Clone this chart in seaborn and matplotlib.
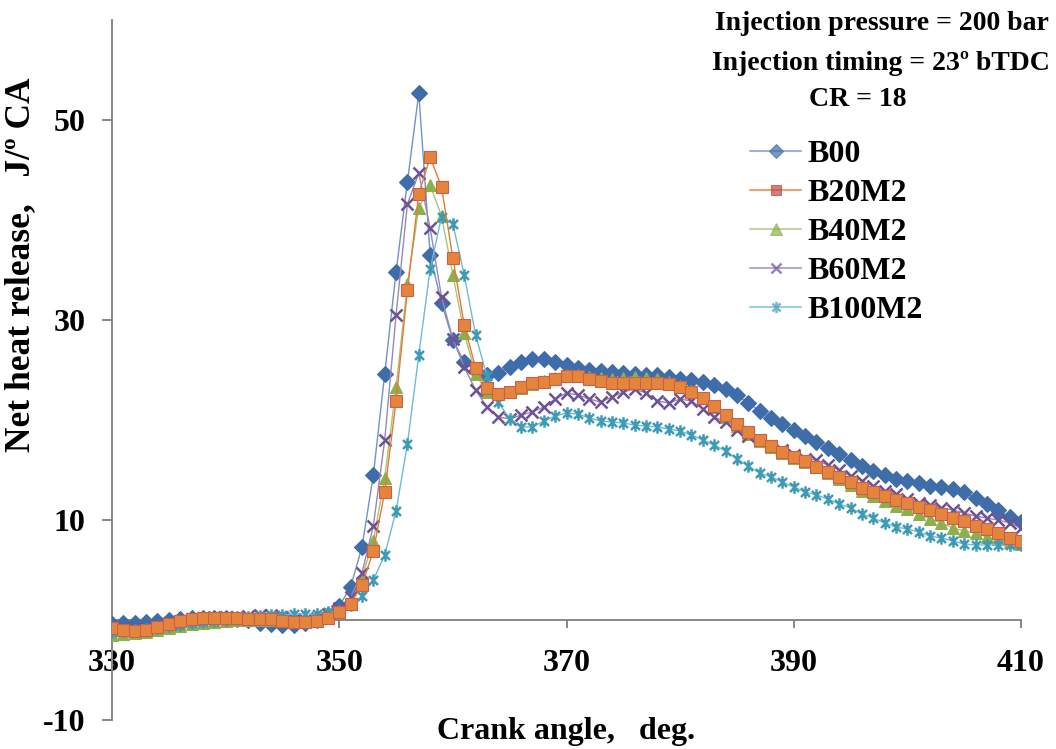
import numpy as np
import pandas as pd
import matplotlib
matplotlib.use("Agg")
import matplotlib.pyplot as plt
from matplotlib.path import Path
from matplotlib.lines import Line2D
import seaborn as sns

# ---- data ----
crank_angle = list(range(330, 411))

b00 = [-0.4, -0.3, -0.3, -0.2, -0.1, 0.0, 0.1, 0.2, 0.2, 0.2, 0.2, 0.1, 0.0, -0.3, -0.4, -0.5, -0.5, -0.3, 0.0, 0.5,
       1.4, 3.3, 7.3, 14.5, 24.6, 34.8, 43.8, 52.7, 36.5, 31.7,
       28.0, 25.8, 24.9, 24.5, 24.7, 25.3, 25.8, 26.1, 26.1, 25.8,
       25.5, 25.2, 25.0, 24.9, 24.8, 24.7, 24.6, 24.5, 24.5, 24.3,
       24.1, 24.0, 23.8, 23.5, 23.1, 22.5, 21.7, 20.9, 20.2, 19.6,
       19.0, 18.4, 17.8, 17.2, 16.6, 16.0, 15.45, 14.95, 14.55, 14.15,
       13.9, 13.7, 13.45, 13.3, 13.1, 12.8, 12.2, 11.6, 11.0, 10.3, 9.8]

b20m2 = [-0.8, -1.0, -1.1, -1.0, -0.7, -0.4, -0.1, 0.1, 0.2, 0.2, 0.2, 0.2, 0.1, 0.1, 0.1, -0.1, -0.2, -0.2, -0.1, 0.2,
         0.8, 1.6, 3.5, 6.9, 12.8, 21.9, 33.0, 42.6, 46.3, 43.3,
         36.2, 29.5, 25.2, 23.2, 22.6, 22.8, 23.3, 23.7, 23.8, 24.1,
         24.4, 24.4, 24.1, 23.9, 23.7, 23.7, 23.7, 23.7, 23.7, 23.6,
         23.3, 22.8, 22.2, 21.4, 20.5, 19.6, 18.8, 18.0, 17.4, 16.8,
         16.3, 15.9, 15.3, 14.8, 14.3, 13.8, 13.2, 12.8, 12.4, 12.0,
         11.7, 11.3, 11.0, 10.6, 10.2, 9.9, 9.4, 9.1, 8.7, 8.2, 7.9]

b40m2 = [-1.5, -1.4, -1.3, -1.2, -1.0, -0.8, -0.6, -0.4, -0.3, -0.2, -0.1, 0.0, 0.0, 0.0, 0.0, 0.0, -0.1, -0.1, 0.0, 0.3,
         0.8, 1.6, 4.3, 7.9, 14.2, 23.3, 33.6, 41.2, 43.5, 40.4,
         34.5, 28.7, 24.6, 22.8, 22.6, 22.8, 23.2, 23.6, 23.9, 24.2,
         24.5, 24.5, 24.3, 24.2, 24.1, 24.2, 24.3, 24.2, 24.1, 23.8,
         23.4, 22.9, 22.2, 21.3, 20.3, 19.4, 18.6, 17.9, 17.3, 16.7,
         16.2, 15.8, 15.3, 14.7, 14.1, 13.5, 12.9, 12.4, 11.9, 11.4,
         11.1, 10.6, 10.1, 9.7, 9.2, 8.9, 8.7, 8.3, 8.1, 7.8, 7.6]

b60m2 = [-0.7, -0.8, -0.9, -0.8, -0.6, -0.3, -0.1, 0.1, 0.2, 0.3, 0.3, 0.3, 0.4, 0.5, 0.5, 0.3, 0.1, 0.0, 0.2, 0.6,
         1.2, 2.3, 4.7, 9.4, 18.0, 30.5, 41.6, 44.7, 39.2, 32.3,
         28.1, 25.3, 23.0, 21.3, 20.3, 20.1, 20.5, 20.8, 21.3, 22.1,
         22.7, 22.5, 22.1, 21.8, 22.3, 22.8, 23.1, 22.7, 21.9, 21.7,
         22.1, 21.9, 21.1, 20.3, 19.8, 19.0, 18.4, 18.0, 17.4, 17.0,
         16.5, 16.1, 16.0, 15.5, 15.0, 14.4, 13.9, 13.4, 12.9, 12.6,
         12.1, 11.7, 11.5, 11.2, 11.0, 10.7, 10.4, 10.2, 10.0, 9.7, 9.2]

b100m2 = [-1.2, -1.1, -1.0, -0.9, -0.8, -0.6, -0.5, -0.3, -0.2, -0.1, 0.0, 0.1, 0.3, 0.4, 0.5, 0.5, 0.6, 0.6, 0.6, 0.8,
          0.9, 1.5, 2.4, 4.0, 6.5, 10.9, 17.6, 26.5, 35.1, 40.3,
          39.6, 34.5, 28.5, 24.4, 21.8, 20.1, 19.3, 19.3, 19.9, 20.4,
          20.7, 20.6, 20.2, 19.9, 19.8, 19.7, 19.5, 19.4, 19.3, 19.1,
          18.9, 18.5, 18.0, 17.5, 16.9, 16.1, 15.4, 14.7, 14.3, 13.8,
          13.3, 12.8, 12.5, 12.1, 11.6, 11.2, 10.6, 10.2, 9.7, 9.3,
          9.1, 8.8, 8.4, 8.2, 7.9, 7.6, 7.5, 7.5, 7.5, 7.5, 7.5]

series_names = ["B00", "B20M2", "B40M2", "B60M2", "B100M2"]
series_values = [b00, b20m2, b40m2, b60m2, b100m2]

x_ticks = [330, 350, 370, 390, 410]
y_ticks = [-10, 10, 30, 50]
title_lines = ["Injection pressure = 200 bar", "Injection timing = 23º bTDC", "CR = 18"]

# ---- style ----
sns.set_style("white")
plt.rcParams["font.family"] = ["Liberation Serif", "DejaVu Serif"]
plt.rcParams["font.weight"] = "bold"
plt.rcParams["axes.unicode_minus"] = False
plt.rcParams["text.color"] = "black"
plt.rcParams["axes.labelcolor"] = "black"
plt.rcParams["xtick.color"] = "black"
plt.rcParams["ytick.color"] = "black"

star = Path([(0, -1), (0, 1), (-0.72, -0.72), (0.72, 0.72), (-0.72, 0.72), (0.72, -0.72)],
            [Path.MOVETO, Path.LINETO, Path.MOVETO, Path.LINETO, Path.MOVETO, Path.LINETO])

styles = {
    "B00":    dict(line="#6F93C9", face="#3E6DAA", edge="#3E6DAA", marker="D", ms=8, mew=0.8, z=3, leg="#3E6DAA"),
    "B20M2":  dict(line="#E27B33", face="#E5853C", edge="#C8604E", marker="s", ms=8.5, mew=0.8, z=7, leg="#B84A47"),
    "B40M2":  dict(line="#A9C47A", face="#8DB04C", edge="#8DB04C", marker="^", ms=9, mew=0.8, z=4, leg="#8DB04C"),
    "B60M2":  dict(line="#9A86B8", face="#6E5294", edge="#6E5294", marker="x", ms=8, mew=1.8, z=5, leg="#6E5294"),
    "B100M2": dict(line="#6DBCD2", face="#3E9BB6", edge="#3E9BB6", marker=star, ms=9, mew=1.8, z=6, leg="#3E9BB6"),
}

fig = plt.figure(figsize=(10.56, 7.49), dpi=100)
ax = fig.add_axes([112 / 1056, 1 - 720 / 749, (1021 - 112) / 1056, 700 / 749])

for name, vals in zip(series_names, series_values):
    st = styles[name]
    df = pd.DataFrame({"angle": crank_angle, "heat": vals})
    sns.lineplot(data=df, x="angle", y="heat", ax=ax, estimator=None, sort=False,
                 color=st["line"], linewidth=1.0, marker=st["marker"], markersize=st["ms"],
                 markerfacecolor=st["face"], markeredgecolor=st["edge"], markeredgewidth=st["mew"],
                 zorder=st["z"], legend=False)

ax.set_xlim(330, 410)
ax.set_ylim(-10, 60)
ax.set_xticks(x_ticks)
ax.set_yticks(y_ticks)

for side in ["top", "right"]:
    ax.spines[side].set_visible(False)
ax.spines["bottom"].set_position(("data", 0))
for side in ["bottom", "left"]:
    ax.spines[side].set_color("#868686")
    ax.spines[side].set_linewidth(1.4)

ax.tick_params(axis="x", direction="out", length=6, width=1.4, color="#868686", pad=15,
               labelsize=23, labelcolor="black")
ax.tick_params(axis="y", direction="out", length=7, width=1.4, color="#868686", pad=12,
               labelsize=23, labelcolor="black")
ax.tick_params(left=True, bottom=True)

ax.set_xlabel("Crank angle,   deg.", fontsize=23, fontweight="bold", color="black")
ax.xaxis.set_label_coords(0.5, 0.004)
ax.xaxis.label.set_va("top")
ax.set_ylabel("Net heat release,   J/º CA", fontsize=25.5, fontweight="bold", color="black")
ax.yaxis.set_label_coords(-0.082, 0.65)

fig.text(1049 / 1056, 1 - 24 / 749, title_lines[0], ha="right", va="center", fontsize=20, fontweight="bold")
fig.text(1050 / 1056, 1 - 63 / 749, title_lines[1], ha="right", va="center", fontsize=20, fontweight="bold")
fig.text(858 / 1056, 1 - 99 / 749, title_lines[2], ha="center", va="center", fontsize=20, fontweight="bold")

handles = []
for name in series_names:
    st = styles[name]
    handles.append(Line2D([0], [0], color=st["line"], lw=1.5, alpha=0.7, marker=st["marker"],
                          markersize=st["ms"] * 0.9, markerfacecolor=st["leg"], markeredgecolor=st["leg"],
                          markeredgewidth=st["mew"]))
leg = ax.legend(handles, series_names, loc="upper left", bbox_to_anchor=(750 / 1056, 1 - 140 / 749),
                bbox_transform=fig.transFigure, frameon=False, fontsize=23, handlelength=1.6,
                handletextpad=0.2, labelspacing=0.3, borderpad=0, borderaxespad=0)

fig.savefig("out.png", dpi=100)
